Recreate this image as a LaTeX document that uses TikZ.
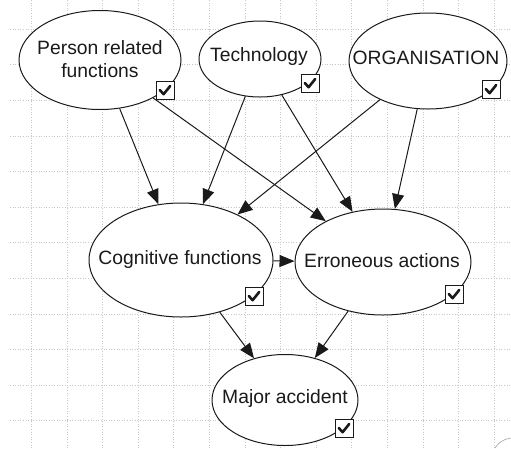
\documentclass[tikz,border=0pt]{standalone}
\usepackage{fontspec}
\setmainfont{Liberation Sans}
\usetikzlibrary{shapes.geometric,arrows.meta}
\definecolor{ink}{HTML}{1A1A1A}
\definecolor{gridc}{HTML}{C8C8C8}
\tikzset{
  ell/.style={ellipse, draw=ink, line width=1pt, fill=white, inner sep=0pt},
  txt/.style={font=\fontsize{19.3}{22.5}\selectfont, text=ink, align=center, inner sep=0pt},
  edge/.style={draw=ink, line width=1pt, -{Triangle[length=15pt,width=12pt]}},
  gridline/.style={draw=gridc, line width=0.8pt, dash pattern=on 1pt off 1.6pt},
  cbox/.style={draw=ink, line width=1pt, fill=white, minimum size=18pt, inner sep=0pt},
}
\newcommand{\checkbox}[2]{%
  \node[cbox, anchor=north west] (#2) at (#1) {};
  \draw[ink, line width=2.6pt, line cap=round, line join=round]
    ([shift={(3.8pt,-9pt)}]#2.north west) -- ([shift={(7.6pt,-13.2pt)}]#2.north west) -- ([shift={(14.2pt,-5pt)}]#2.north west);
}
\begin{document}
\begin{tikzpicture}[x=1pt,y=-1pt]
\useasboundingbox (0,0) rectangle (511,448);
\fill[white] (0,0) rectangle (511,448);
% grid
\foreach \i in {0,...,13} {
  \draw[gridline] ({31.3+35.6*\i},0) -- ({31.3+35.6*\i},448);
}
\foreach \j in {0,...,11} {
  \draw[gridline] (10,{29.2+35.6*\j}) -- (511,{29.2+35.6*\j});
}
% nodes
\node[ell, minimum width=162pt, minimum height=99pt] (p) at (100,60) {};
\node[ell, minimum width=122pt, minimum height=76pt] (t) at (260,59) {};
\node[ell, minimum width=158pt, minimum height=96pt] (o) at (428,61) {};
\node[ell, minimum width=184pt, minimum height=114pt] (c) at (181,260) {};
\node[ell, minimum width=176pt, minimum height=106pt] (e) at (383,262) {};
\node[ell, minimum width=146pt, minimum height=91pt] (m) at (285,400) {};
\node[txt] (pt) at (100,59) {Person related\\functions};
\node[txt] (tt) at (259,57) {Technology};
\node[txt] (ot) at (426,58) {ORGANISATION};
\node[txt] (ct) at (180,260) {Cognitive functions};
\node[txt] (et) at (382,261) {Erroneous actions};
\node[txt] (mt) at (285,398) {Major accident};
% edges
\draw[edge] (p) -- (c);
\draw[edge] (p) -- (e);
\draw[edge] (t) -- (c);
\draw[edge] (t) -- (e);
\draw[edge] (o) -- (c);
\draw[edge] (o) -- (e);
\draw[edge] (c) -- (e);
\draw[edge] (c) -- (m);
\draw[edge] (e) -- (m);
% checkboxes
\checkbox{156,81}{pb}
\checkbox{301,74}{tb}
\checkbox{482,80}{ob}
\checkbox{245,287}{cb}
\checkbox{445,285}{eb}
\checkbox{335,419}{mb}
% small stray stroke
\draw[gridc!80!black, line width=0.6pt] (495,448) .. controls (499,442) and (504,439) .. (511,438);
\end{tikzpicture}
\end{document}
